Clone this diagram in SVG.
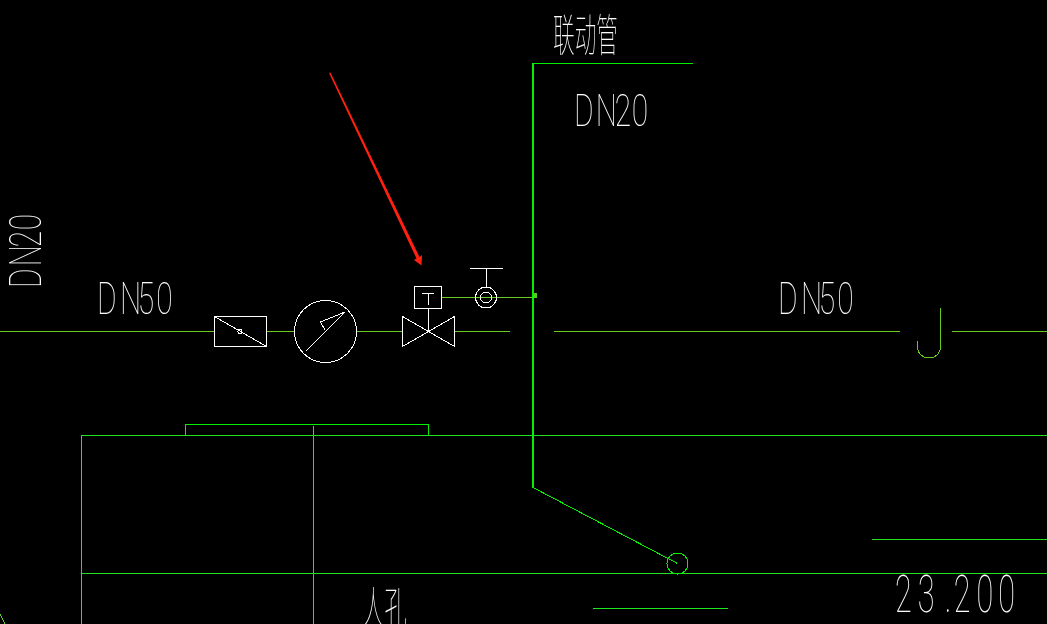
<svg xmlns="http://www.w3.org/2000/svg" width="1047" height="624" viewBox="0 0 1047 624">
<style>
.g{fill:none;stroke:#1ee61e;stroke-width:1;shape-rendering:crispEdges}
.b{fill:none;stroke:#00f000;stroke-width:1;shape-rendering:crispEdges}
.y{fill:none;stroke:#66cc22;stroke-width:1;shape-rendering:crispEdges}
.w{fill:none;stroke:#fff;stroke-width:1;shape-rendering:crispEdges}
.t{fill:#fff;font-family:"Roboto","Lato","Liberation Sans",sans-serif;font-weight:100;font-size:44px}
.n{fill:#fff;font-family:"Roboto","Lato","Liberation Sans",sans-serif;font-weight:100;font-size:51px}
.c{fill:#fff;font-family:"Noto Sans CJK SC",sans-serif;font-weight:100;font-size:45px}
</style>
<rect width="1047" height="624" fill="#000"/>
<g id="connectors">
<path class="y" d="M0 331.5H214M266 331.5H294M356 331.5H402M455 331.5H510M554 331.5H900M952 331.5H1047M442 297.5H533M0 614L5 624"/>
<path class="y" d="M940.5 308V347A11.5 11 0 0 1 917.500 347V341"/>
<path class="b" d="M692.500 63.500H533M533 487.500L677.500 563.500"/>
<path class="b" style="stroke-width:2" d="M533 63V488"/>
<path class="b" d="M185.500 435V424.500H428.500V435"/>
<path class="g" d="M81.500 624V435.500H1047M81.500 573.500H1047M313.500 426V624M872 539.500H1047M593 608.500H728"/>
<polygon points="329,73 330.500,72.500 419.500,257 422,255 421.500,265.500 414,260 416.500,258.500" fill="#ff2010"/>
</g>
<g id="check-valve"><rect class="w" x="214.500" y="316.500" width="52" height="30"/><path class="w" d="M214.500 316.500L266.500 346.500"/><circle class="w" cx="240" cy="331.500" r="2"/></g>
<g id="gauge"><circle class="w" cx="325.500" cy="331.500" r="31"/><path class="w" d="M306 351L345 312L320.500 322L325 330"/></g>
<g id="valve"><path class="w" d="M402.500 316.500V346.500L454.500 316.500V346.500ZM428.500 331V308"/></g>
<g id="actuator"><rect class="w" x="414.500" y="286.500" width="27" height="22"/><path class="w" d="M422 293.500H434M428.500 293.500V305"/></g>
<g id="hand-valve"><circle class="w" cx="486" cy="297.500" r="10.500"/><circle class="w" cx="486" cy="297.500" r="5.500"/><path class="w" d="M470 268.500H503M486.500 268.500V287"/></g>
<g id="joint"><rect x="533" y="293" width="4" height="5" fill="#55cc22"/></g>
<g id="marker-circle"><circle class="b" cx="677.500" cy="563.500" r="10.500"/></g>
<g id="labels" opacity=".99">
<text class="c" x="553" y="52" textLength="65" lengthAdjust="spacingAndGlyphs">联动管</text>
<text class="t" transform="translate(574 126) scale(.68 1)" x="0 32 60 85">DN20</text>
<text class="t" transform="translate(97 314) scale(.68 1)" x="0 34 60 87">DN50</text>
<text class="t" transform="translate(778 314) scale(.68 1)" x="0 34 60 87">DN50</text>
<text class="t" transform="translate(41 288) rotate(-90) scale(.68 1)" x="0 32 60 85">DN20</text>
<text class="n" transform="translate(895 612) scale(.6 1)" x="0 38 83 98 136 172">23.200</text>
<text class="c" x="362" y="625" textLength="45" lengthAdjust="spacingAndGlyphs">人孔</text>
</g>
</svg>
